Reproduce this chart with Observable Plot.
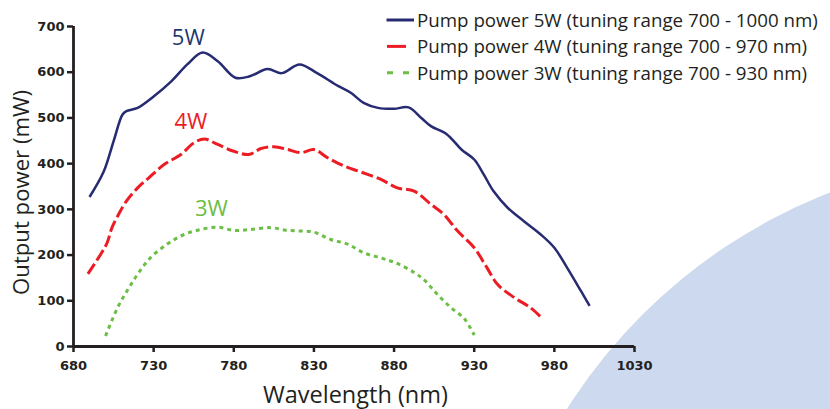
<!DOCTYPE html>
<html>
<head>
<meta charset="utf-8">
<script src="https://cdn.jsdelivr.net/npm/d3@7"></script>
<script src="https://cdn.jsdelivr.net/npm/@observablehq/plot@0.6"></script>
<style>
  html, body { margin: 0; padding: 0; background: #ffffff; }
  #wrap { position: relative; width: 830px; height: 409px; overflow: hidden; background: #ffffff; }
  #disc { position: absolute; left: 483px; top: 156px; width: 1086px; height: 1086px; border-radius: 50%; background: #cdd9ee; }
  #chart { position: absolute; left: 0; top: 0; }
  #overlay { position: absolute; left: 0; top: 0; pointer-events: none; }
</style>
</head>
<body>
<div id="wrap">
  <div id="disc"></div>
  <div id="chart"></div>
  <svg id="overlay" width="830" height="409"></svg>
</div>
<script>
// ---- data ----
const xTicks = [680, 730, 780, 830, 880, 930, 980, 1030];
const yTicks = [0, 100, 200, 300, 400, 500, 600, 700];

const wl5 = [690, 699, 705, 710.5, 713, 720, 730, 741, 751, 760.5, 770, 781, 790, 801, 810, 821, 832, 845, 853, 861, 870, 880, 889, 897, 903, 913, 922, 930, 936, 942, 951, 961, 971.5, 980, 988, 996.5, 1002];
const pw5 = [327, 384, 449, 507, 515, 522, 547, 580, 617, 643, 624, 588, 591, 607, 598, 617, 598, 570, 555, 533, 522, 520, 523, 500, 482, 464, 431, 409, 376, 340, 303, 274, 245, 216, 172, 122, 89];

const wl4 = [689, 697, 701, 704, 707.5, 713, 720, 727, 736.5, 747, 755, 761.5, 770, 780, 789.5, 797, 805, 813.5, 822, 830, 838.5, 848, 859, 871.5, 882, 892.5, 903, 911, 919.5, 930, 938, 944.5, 955, 965, 972];
const pw4 = [159, 202, 227, 260, 285, 318, 347, 369, 398, 420, 445, 454, 442, 427, 420, 433, 437, 431, 424, 431, 413, 396, 382, 366, 347, 340, 311, 289, 253, 216, 172, 136, 107, 85, 63];

const wl3 = [700, 707.5, 714, 720, 728, 738.5, 749, 759.5, 770, 780, 790.5, 803, 811.5, 820, 830, 840.5, 851, 861, 871.5, 881, 892.5, 899, 907, 915.5, 924, 930];
const pw3 = [23, 85, 125, 158, 194, 224, 245, 256, 261, 254, 256, 260, 255, 253, 250, 234, 224, 205, 194, 183, 162, 145, 114, 85, 60, 25];

const seriesNames = ["5W", "4W", "3W"];
const labelWl = [751.6, 753.2, 766];
const labelPw = [660, 475.6, 286];
const legendTexts = [
  "Pump power 5W (tuning range 700 - 1000 nm)",
  "Pump power 4W (tuning range 700 - 970 nm)",
  "Pump power 3W (tuning range 700 - 930 nm)"
];
const xTitle = "Wavelength (nm)";
const yTitle = "Output power (mW)";

// ---- styles ----
const lineColors = ["#262b72", "#ed1c24", "#6dbe45"];
const labelColors = ["#1f3a6e", "#ed1c24", "#6dbe45"];
const dashes = [null, "12,4", "4,4"];
const widths = [2.5, 3, 3];
const ink = "#231f20";

const toRows = (w, p) => w.map((d, i) => ({wl: d, pw: p[i]}));
const rows = [toRows(wl5, pw5), toRows(wl4, pw4), toRows(wl3, pw3)];
const labels = seriesNames.map((n, i) => ({name: n, wl: labelWl[i], pw: labelPw[i], i}));

const tickFont = {fontFamily: "DejaVu Sans", fontSize: 13, fontWeight: "bold", fill: ink, stroke: ink, strokeWidth: 2.5, tickFormat: d => String(d)};

const chart = Plot.plot({
  width: 830,
  height: 409,
  marginLeft: 73,
  marginRight: 196,
  marginTop: 26,
  marginBottom: 63,
  style: {background: "transparent", overflow: "visible"},
  x: {domain: [xTicks[0], xTicks[xTicks.length - 1]]},
  y: {domain: [yTicks[0], yTicks[yTicks.length - 1]]},
  marks: [
    Plot.axisX({ticks: xTicks, tickSize: 6, tickPadding: 8, label: null, ...tickFont}),
    Plot.axisY({ticks: yTicks, tickSize: 6, tickPadding: 3, label: null, ...tickFont}),
    Plot.ruleY([yTicks[0]], {stroke: ink, strokeWidth: 2.8}),
    Plot.ruleX([xTicks[0]], {stroke: ink, strokeWidth: 2.8}),
    ...rows.map((r, i) => Plot.line(r, {
      x: "wl", y: "pw", curve: "catmull-rom",
      stroke: lineColors[i], strokeWidth: widths[i],
      strokeDasharray: dashes[i], strokeLinecap: "butt"
    })),
    Plot.text(labels, {
      x: "wl", y: "pw", text: "name", lineAnchor: "bottom", textAnchor: "middle",
      fill: d => labelColors[d.i], fontSize: 22, fontFamily: "Open Sans"
    })
  ]
});
chart.querySelectorAll("text").forEach(t => { t.removeAttribute("stroke"); t.style.stroke = "none"; });
document.getElementById("chart").appendChild(chart);

// ---- titles and legend (overlay) ----
const ov = d3.select("#overlay");
// scale a text's font so that its rendered length matches a target length
function fitFont(sel, base, target) {
  sel.attr("font-size", base);
  const len = sel.node().getComputedTextLength();
  const fs = len > 0 ? base * target / len : base;
  sel.attr("font-size", fs);
  return fs;
}
const xt = ov.append("text")
  .attr("x", 355.5).attr("y", 403)
  .attr("text-anchor", "middle")
  .attr("font-family", "Open Sans").attr("fill", ink)
  .text(xTitle);
fitFont(xt, 21, 185);
const yt = ov.append("text")
  .attr("transform", "translate(29,192.5) rotate(-90)")
  .attr("text-anchor", "middle")
  .attr("font-family", "Open Sans").attr("fill", ink)
  .text(yTitle);
fitFont(yt, 21, 205);

const legendSwatch = [[386.5, 414, null], [387, 406, null], [387, 409, "6,10"]];
let legendFs = null;
legendTexts.forEach((txt, i) => {
  const cy = 20 + i * 26.4;
  const s = legendSwatch[i];
  ov.append("line")
    .attr("x1", s[0]).attr("x2", s[1]).attr("y1", cy).attr("y2", cy)
    .attr("stroke", lineColors[i]).attr("stroke-width", 3)
    .attr("stroke-dasharray", s[2]);
  const t = ov.append("text")
    .attr("x", 417).attr("y", cy + 7)
    .attr("font-family", "Open Sans").attr("fill", ink)
    .text(txt);
  if (legendFs === null) legendFs = fitFont(t, 18.5, 401);
  else t.attr("font-size", legendFs);
});
</script>
</body>
</html>
